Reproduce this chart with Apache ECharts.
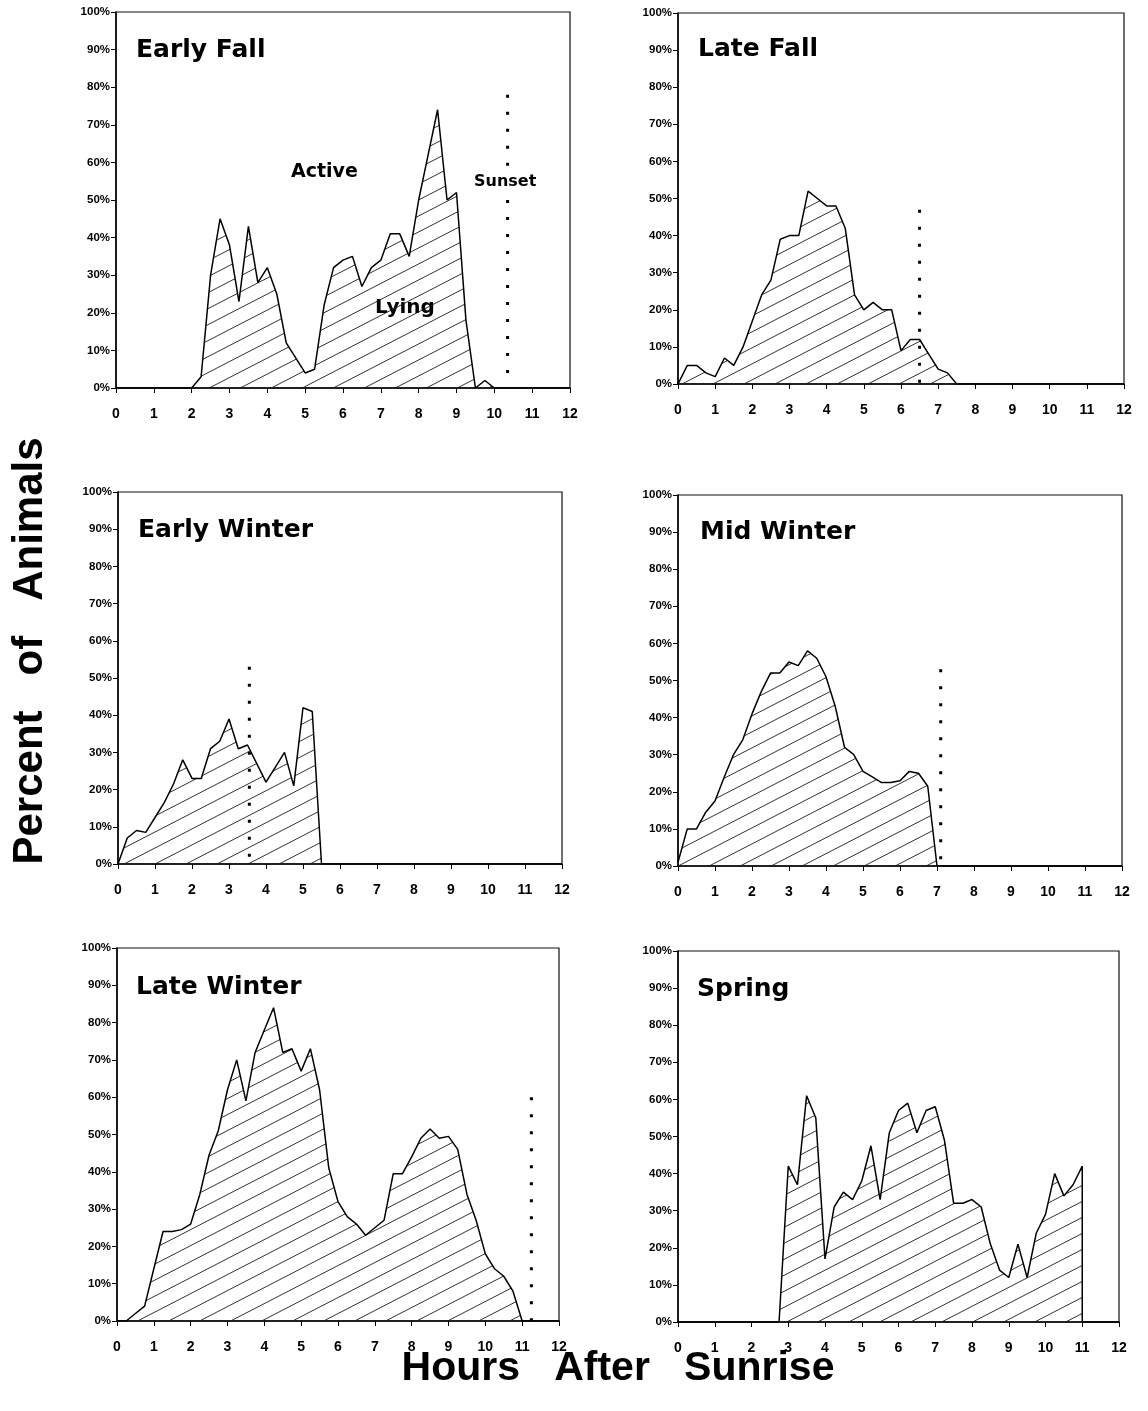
<!DOCTYPE html>
<html><head><meta charset="utf-8">
<script src="https://cdn.jsdelivr.net/npm/echarts@6/dist/echarts.min.js"></script>
<style>html,body{margin:0;padding:0;background:#fff}#c{width:1148px;height:1411px}</style>
</head><body><div id="c"></div>
<script>
// ---------- DATA (hours after sunrise, percent of animals lying) ----------
const xTicks = [0,1,2,3,4,5,6,7,8,9,10,11,12];
const yTicks = [0,10,20,30,40,50,60,70,80,90,100];
const panelTitles = ['Early Fall','Late Fall','Early Winter','Mid Winter','Late Winter','Spring'];

const hoursEarlyFall = [0,2.0,2.25,2.5,2.75,3.0,3.25,3.5,3.75,4.0,4.25,4.5,4.75,5.0,5.25,5.5,5.75,6.0,6.25,6.5,6.75,7.0,7.25,7.5,7.75,8.0,8.25,8.5,8.75,9.0,9.25,9.5,9.75,10.0,12];
const lyingEarlyFall = [0,0,3,30,45,38,23,43,28,32,25,12,8,4,5,22,32,34,35,27,32,34,41,41,35,50,62,74,50,52,18,0,2,0,0];

const hoursLateFall = [0,0.25,0.5,0.75,1.0,1.25,1.5,1.75,2.0,2.25,2.5,2.75,3.0,3.25,3.5,3.75,4.0,4.25,4.5,4.75,5.0,5.25,5.5,5.75,6.0,6.25,6.5,6.75,7.0,7.25,7.5,12];
const lyingLateFall = [0,5,5,3,2,7,5,10,17,24,28,39,40,40,52,50,48,48,42,24,20,22,20,20,9,12,12,8,4,3,0,0];

const hoursEarlyWinter = [0,0.25,0.5,0.75,1.0,1.25,1.5,1.75,2.0,2.25,2.5,2.75,3.0,3.25,3.5,3.75,4.0,4.25,4.5,4.75,5.0,5.25,5.5,12];
const lyingEarlyWinter = [0,7,9,8.5,12.5,16.5,21.5,28,23,23,31,33,39,31,32,27,22,26,30,21,42,41,0,0];

const hoursMidWinter = [0,0.25,0.5,0.75,1.0,1.25,1.5,1.75,2.0,2.25,2.5,2.75,3.0,3.25,3.5,3.75,4.0,4.25,4.5,4.75,5.0,5.25,5.5,5.75,6.0,6.25,6.5,6.75,7.0,12];
const lyingMidWinter = [1,10,10,14.5,17.5,24,30,34,41,47,52,52,55,54,58,56,51,43,32,30,25.5,24,22.5,22.5,23,25.5,25,21.5,0,0];

const hoursLateWinter = [0,0.25,0.5,0.75,1.0,1.25,1.5,1.75,2.0,2.25,2.5,2.75,3.0,3.25,3.5,3.75,4.0,4.25,4.5,4.75,5.0,5.25,5.5,5.75,6.0,6.25,6.5,6.75,7.0,7.25,7.5,7.75,8.0,8.25,8.5,8.75,9.0,9.25,9.5,9.75,10.0,10.25,10.5,10.75,11.0,12];
const lyingLateWinter = [0,0,2,4,14,24,24,24.5,26,34,44.5,51,62,70,59,72,78,84,72,73,67,73,62,41,32,28,26,23,25,27,39.5,39.5,44,49,51.5,49,49.5,46,34,27,18,14,12,8,0,0];

const hoursSpring = [0,2.75,3.0,3.25,3.5,3.75,4.0,4.25,4.5,4.75,5.0,5.25,5.5,5.75,6.0,6.25,6.5,6.75,7.0,7.25,7.5,7.75,8.0,8.25,8.5,8.75,9.0,9.25,9.5,9.75,10.0,10.25,10.5,10.75,11.0,11.0,12];
const lyingSpring = [0,0,42,37,61,55,17,31,35,33,38,47.5,33,51,57,59,51,57,58,49,32,32,33,31,21,14,12,21,12,24,29,40,34,37,42,0,0];

// sunset marker: hour and vertical extent (percent) of dotted segments
const sunsetHour = [10.35, 6.5, 3.55, 7.1, 11.25, null];
const sunsetSegments = [[[4,50],[59,78]], [[0,47]], [[0,53]], [[0,53]], [[0,60]], []];

// ---------- CHART ----------
const panelHours = [hoursEarlyFall,hoursLateFall,hoursEarlyWinter,hoursMidWinter,hoursLateWinter,hoursSpring];
const panelLying = [lyingEarlyFall,lyingLateFall,lyingEarlyWinter,lyingMidWinter,lyingLateWinter,lyingSpring];

const grids = [
  {left:116, top:12,  width:454, height:376},
  {left:678, top:13,  width:446, height:371},
  {left:118, top:492, width:444, height:372},
  {left:678, top:495, width:444, height:371},
  {left:117, top:948, width:442, height:373},
  {left:678, top:951, width:441, height:371}
];

function hatchCanvas(){
  const w=31,h=16;
  const c=document.createElement('canvas'); c.width=w; c.height=h;
  const g=c.getContext('2d');
  g.strokeStyle='#1a1a1a'; g.lineWidth=0.9;
  g.beginPath();
  for(let k=-1;k<=1;k++){ g.moveTo(k*w-w, 2*h); g.lineTo(k*w+2*w, -h); }
  g.stroke();
  return c;
}
const hatch = {image: hatchCanvas(), repeat:'repeat'};

const FONT = 'Liberation Sans, Arial, sans-serif';
const xAxes=[], yAxes=[], series=[];
grids.forEach((gr,i)=>{
  gr.show=true; gr.borderColor='#111'; gr.borderWidth=1.2; gr.containLabel=false;
  xAxes.push({type:'value', gridIndex:i, min:xTicks[0], max:xTicks[xTicks.length-1], interval:1,
    axisLine:{show:true, onZero:false, lineStyle:{color:'#000', width:1.5}},
    axisTick:{show:true, inside:false, length:5, lineStyle:{color:'#000', width:1}},
    splitLine:{show:false},
    axisLabel:{margin:19, color:'#000', fontFamily:FONT, fontWeight:'bold', fontSize:14}});
  yAxes.push({type:'value', gridIndex:i, min:yTicks[0], max:yTicks[yTicks.length-1], interval:10,
    axisLine:{show:true, lineStyle:{color:'#000', width:1.5}},
    axisTick:{show:true, inside:false, length:5, lineStyle:{color:'#000', width:1}},
    splitLine:{show:false},
    axisLabel:{margin:6, color:'#000', fontFamily:FONT, fontWeight:'bold', fontSize:11.5, formatter:'{value}%'}});
  series.push({type:'line', xAxisIndex:i, yAxisIndex:i, symbol:'none', silent:true,
    data: panelHours[i].map((h,j)=>[h, panelLying[i][j]]),
    lineStyle:{color:'#000', width:1.5}, areaStyle:{color:hatch, opacity:1}, z:3});
  sunsetSegments[i].forEach(seg=>{
    series.push({type:'line', xAxisIndex:i, yAxisIndex:i, symbol:'none', silent:true,
      data:[[sunsetHour[i], seg[1]],[sunsetHour[i], seg[0]]],
      lineStyle:{color:'#000', width:3, type:[3,14], cap:'butt'}, z:4});
  });
});

const TFONT = 'DejaVu Sans, sans-serif';
const titlePos = [[136,52],[698,51],[138,532],[700,534],[136,989],[697,991]];
const graphics = panelTitles.map((t,i)=>({type:'text', left:titlePos[i][0], top:titlePos[i][1]-14,
  style:{text:t, fill:'#000', font:'bold 25px '+TFONT}}));
graphics.push({type:'text', left:291, top:163, style:{text:'Active', fill:'#000', font:'bold 19px '+TFONT}});
graphics.push({type:'text', left:375, top:298, style:{text:'Lying', fill:'#000', font:'bold 20px '+TFONT}});
graphics.push({type:'text', left:474, top:174, style:{text:'Sunset', fill:'#000', font:'bold 16px '+TFONT}});
// axis titles
graphics.push({type:'text', x:618, y:1369, style:{text:'Hours   After   Sunrise', fill:'#000', font:'bold 41px '+FONT, align:'center', verticalAlign:'middle'}});
graphics.push({type:'text', x:30, y:651, rotation:Math.PI/2, style:{text:'Percent   of   Animals', fill:'#000', font:'bold 42px '+FONT, align:'center', verticalAlign:'middle'}});

const chart = echarts.init(document.getElementById('c'), null, {renderer:'canvas'});
chart.setOption({animation:false, backgroundColor:'#fff', grid:grids, xAxis:xAxes, yAxis:yAxes, series:series, graphic:graphics});
</script></body></html>
